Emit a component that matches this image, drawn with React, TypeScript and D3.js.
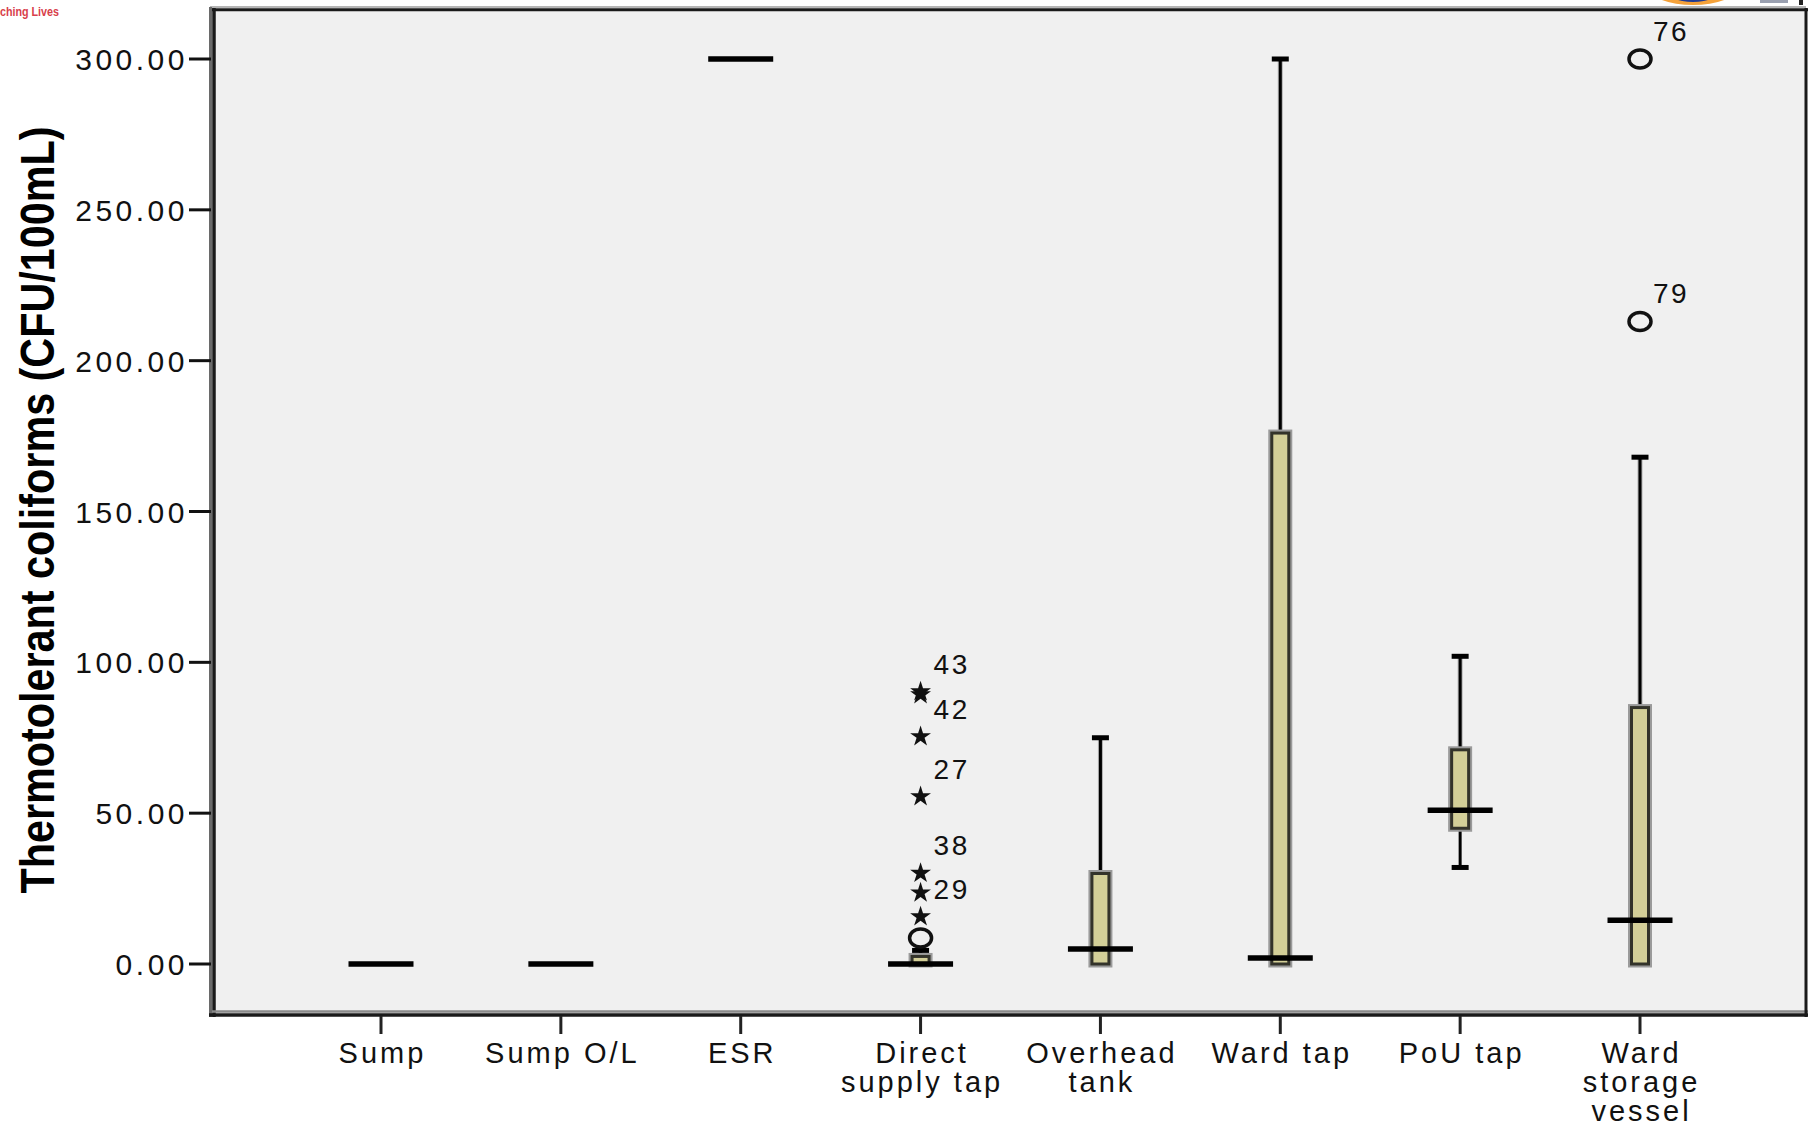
import { useEffect, useRef } from 'react';
import * as d3 from 'd3';

// categories and labels
const categories = ['Sump', 'Sump O/L', 'ESR', 'Direct supply tap', 'Overhead tank', 'Ward tap', 'PoU tap', 'Ward storage vessel'];
const categoryLines = [['Sump'], ['Sump O/L'], ['ESR'], ['Direct', 'supply tap'], ['Overhead', 'tank'], ['Ward tap'], ['PoU tap'], ['Ward', 'storage', 'vessel']];

// box plot statistics (CFU/100mL)
const whiskerLow = [0, 0, 300, 0, 0, 0, 32, 0];
const q1 = [0, 0, 300, 0, 0, 0, 45, 0];
const median = [0, 0, 300, 0, 5, 2, 51, 14.5];
const q3 = [0, 0, 300, 2.5, 30, 176, 71, 85];
const whiskerHigh = [0, 0, 300, 4.5, 75, 300, 102, 168];

// outliers: o = mild (circle), e = extreme (star)
const outlierCategory = ['Direct supply tap', 'Direct supply tap', 'Direct supply tap', 'Direct supply tap', 'Direct supply tap', 'Direct supply tap', 'Direct supply tap', 'Direct supply tap', 'Ward storage vessel', 'Ward storage vessel'];
const outlierValue = [8.6, 15.7, 23.6, 30.1, 55.5, 75.4, 89.3, 90.3, 300, 213];
const outlierKind = ['o', 'e', 'e', 'e', 'e', 'e', 'e', 'e', 'o', 'o'];
const outlierLabel = ['', '29', '', '38', '27', '42', '', '43', '76', '79'];

const yTicks = [0, 50, 100, 150, 200, 250, 300];

const FONT = '"Liberation Sans", Arial, sans-serif';

export default function App() {
  const svgRef = useRef(null);
  const width = 1808;
  const height = 1127;

  useEffect(() => {
    const svg = d3.select(svgRef.current);
    svg.selectAll('*').remove();

    const left = 212, top = 9, right = 1806, bottom = 1015;

    const x = d3.scalePoint().domain(categories).range([381, 1640]);
    const y = d3.scaleLinear().domain([0, 300]).range([964, 59]);

    // header fragments
    svg.append('text')
      .attr('x', 0).attr('y', 16)
      .attr('font-family', FONT).attr('font-weight', 'bold').attr('font-size', 12)
      .attr('textLength', 59).attr('lengthAdjust', 'spacingAndGlyphs')
      .attr('fill', '#d8404a')
      .text('ching Lives');
    svg.append('ellipse').attr('cx', 1693).attr('cy', -12).attr('rx', 44).attr('ry', 17).attr('fill', '#f5a23a');
    svg.append('ellipse').attr('cx', 1693).attr('cy', -11).attr('rx', 28).attr('ry', 13).attr('fill', '#1f3a93');
    svg.append('rect').attr('x', 1760).attr('y', 0).attr('width', 28).attr('height', 3).attr('fill', '#9aa0b0');
    svg.append('rect').attr('x', 1799).attr('y', 0).attr('width', 4).attr('height', 5).attr('fill', '#222');

    // plot area
    svg.append('rect')
      .attr('x', left).attr('y', top)
      .attr('width', right - left).attr('height', bottom - top)
      .attr('fill', '#f0f0f0');

    const g = svg.append('g');

    // frame
    g.append('line').attr('x1', left - 2).attr('x2', right).attr('y1', 7).attr('y2', 7).attr('stroke', '#b5b5b5').attr('stroke-width', 2);
    g.append('line').attr('x1', left).attr('x2', right + 2).attr('y1', 9.7).attr('y2', 9.7).attr('stroke', '#1a1a1a').attr('stroke-width', 3);
    g.append('line').attr('x1', 210.5).attr('x2', 210.5).attr('y1', 7).attr('y2', bottom + 2).attr('stroke', '#6a6a6a').attr('stroke-width', 3);
    g.append('line').attr('x1', 214).attr('x2', 214).attr('y1', 8).attr('y2', bottom + 2).attr('stroke', '#1a1a1a').attr('stroke-width', 3.5);
    g.append('line').attr('x1', left).attr('x2', right + 2).attr('y1', 1011.5).attr('y2', 1011.5).attr('stroke', '#8a8a8a').attr('stroke-width', 2.5);
    g.append('line').attr('x1', 209).attr('x2', right + 2).attr('y1', 1015).attr('y2', 1015).attr('stroke', '#1a1a1a').attr('stroke-width', 3.5);
    g.append('line').attr('x1', right).attr('x2', right).attr('y1', 8).attr('y2', bottom + 2).attr('stroke', '#1a1a1a').attr('stroke-width', 3);

    // y axis ticks and labels
    const yAxis = g.append('g');
    yTicks.forEach(t => {
      yAxis.append('line')
        .attr('x1', 189).attr('x2', 211)
        .attr('y1', y(t)).attr('y2', y(t))
        .attr('stroke', '#111').attr('stroke-width', 3);
      yAxis.append('text')
        .attr('x', 188).attr('y', y(t) + 11)
        .attr('text-anchor', 'end')
        .attr('font-family', FONT).attr('font-size', 30)
        .attr('letter-spacing', 3.5)
        .attr('fill', '#111')
        .text(d3.format('.2f')(t));
    });

    // y title
    g.append('text')
      .attr('transform', 'translate(54,510) rotate(-90)')
      .attr('text-anchor', 'middle')
      .attr('font-family', FONT).attr('font-weight', 'bold').attr('font-size', 48)
      .attr('textLength', 767).attr('lengthAdjust', 'spacingAndGlyphs')
      .attr('fill', '#000')
      .text('Thermotolerant coliforms (CFU/100mL)');

    // x ticks and labels
    categories.forEach((c, i) => {
      const cx = x(c);
      g.append('line')
        .attr('x1', cx).attr('x2', cx)
        .attr('y1', 1016).attr('y2', 1034)
        .attr('stroke', '#222').attr('stroke-width', 3);
      const txt = g.append('text')
        .attr('text-anchor', 'middle')
        .attr('font-family', FONT).attr('font-size', 29)
        .attr('letter-spacing', 3)
        .attr('fill', '#111');
      categoryLines[i].forEach((line, j) => {
        txt.append('tspan')
          .attr('x', cx + 1.5)
          .attr('y', 1063 + j * 29)
          .text(line);
      });
    });

    // boxes
    const boxW = 17;
    const medW = 65;
    categories.forEach((c, i) => {
      const cx = x(c);
      const grp = g.append('g');
      const hasBox = q3[i] > q1[i];
      if (whiskerHigh[i] > q3[i]) {
        grp.append('line').attr('x1', cx).attr('x2', cx).attr('y1', y(q3[i])).attr('y2', y(whiskerHigh[i]))
          .attr('stroke', '#b0b0b0').attr('stroke-width', 5);
        grp.append('line').attr('x1', cx).attr('x2', cx).attr('y1', y(q3[i])).attr('y2', y(whiskerHigh[i]))
          .attr('stroke', '#000').attr('stroke-width', 3);
        grp.append('line').attr('x1', cx - boxW / 2).attr('x2', cx + boxW / 2)
          .attr('y1', y(whiskerHigh[i])).attr('y2', y(whiskerHigh[i]))
          .attr('stroke', '#000').attr('stroke-width', 5);
      }
      if (whiskerLow[i] < q1[i]) {
        grp.append('line').attr('x1', cx).attr('x2', cx).attr('y1', y(q1[i])).attr('y2', y(whiskerLow[i]))
          .attr('stroke', '#000').attr('stroke-width', 3);
        grp.append('line').attr('x1', cx - boxW / 2).attr('x2', cx + boxW / 2)
          .attr('y1', y(whiskerLow[i])).attr('y2', y(whiskerLow[i]))
          .attr('stroke', '#000').attr('stroke-width', 5);
      }
      if (hasBox) {
        grp.append('rect')
          .attr('x', cx - boxW / 2 - 1).attr('y', y(q3[i]) - 1)
          .attr('width', boxW + 2).attr('height', y(q1[i]) - y(q3[i]) + 2)
          .attr('fill', 'none').attr('stroke', '#9a9a9a').attr('stroke-width', 5);
        grp.append('rect')
          .attr('x', cx - boxW / 2).attr('y', y(q3[i]))
          .attr('width', boxW).attr('height', y(q1[i]) - y(q3[i]))
          .attr('fill', '#d3cf98').attr('stroke', '#33332a').attr('stroke-width', 3);
      }
      grp.append('line')
        .attr('x1', cx - medW / 2).attr('x2', cx + medW / 2)
        .attr('y1', y(median[i])).attr('y2', y(median[i]))
        .attr('stroke', '#000').attr('stroke-width', 5.5);
    });

    // outliers
    const star = d3.symbol().type(d3.symbolStar).size(135);
    outlierValue.forEach((v, k) => {
      const cx = x(outlierCategory[k]);
      const cy = y(v);
      if (outlierKind[k] === 'o') {
        g.append('ellipse')
          .attr('cx', cx).attr('cy', cy).attr('rx', 11).attr('ry', 9)
          .attr('fill', 'none').attr('stroke', '#111').attr('stroke-width', 3.5);
      } else {
        g.append('path')
          .attr('d', star())
          .attr('transform', `translate(${cx},${cy})`)
          .attr('fill', '#111');
      }
      if (outlierLabel[k]) {
        g.append('text')
          .attr('x', cx + 13).attr('y', cy - 18)
          .attr('font-family', FONT).attr('font-size', 28)
          .attr('letter-spacing', 2.5)
          .attr('fill', '#111')
          .text(outlierLabel[k]);
      }
    });
  }, []);

  return (
    <svg
      ref={svgRef}
      width={width}
      height={height}
      style={{ position: 'absolute', left: 0, top: 0, display: 'block', background: '#fff' }}
    />
  );
}
